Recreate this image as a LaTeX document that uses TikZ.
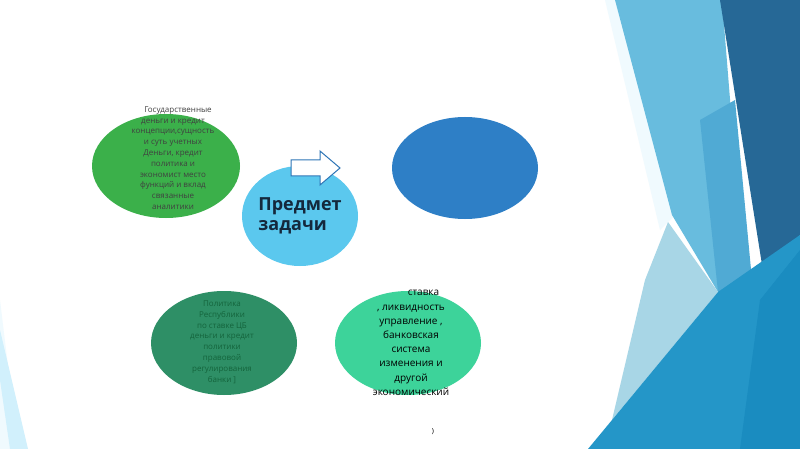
\documentclass[tikz,border=0pt]{standalone}
\usepackage{fontspec}
\setmainfont{Open Sans}
\begin{document}
\begin{tikzpicture}[x=1pt,y=-1pt,
  txt/.style={align=center,font=\fontsize{8}{10.8}\selectfont}]
\useasboundingbox (0,0) rectangle (800,449);
\fill[white] (0,0) rectangle (800,449);
% background shapes
\fill[cyan!6] (0,300) -- (18,449) -- (0,449) -- cycle;
\fill[cyan!18] (0,330) -- (28,449) -- (10,449) -- (0,380) -- cycle;
\fill[cyan!6] (605,0) -- (620,0) -- (675,215) -- (660,230) -- cycle;
\fill[color={rgb,255:red,104;green,188;blue,222}] (615,0) -- (722,0) -- (745,285) -- (718,292) -- (672,215) -- cycle;
\fill[color={rgb,255:red,80;green,170;blue,212}] (700,120) -- (735,100) -- (752,280) -- (718,292) -- cycle;
\fill[color={rgb,255:red,38;green,104;blue,150}] (720,0) -- (800,0) -- (800,235) -- (766,290) -- cycle;
\fill[color={rgb,255:red,168;green,214;blue,230}] (668,222) -- (718,292) -- (612,420) -- (645,280) -- cycle;
\fill[color={rgb,255:red,36;green,150;blue,200}] (588,449) -- (718,292) -- (800,235) -- (800,449) -- cycle;
\fill[color={rgb,255:red,26;green,140;blue,192}] (740,449) -- (760,300) -- (800,250) -- (800,449) -- cycle;
% ellipses
\fill[color={rgb,255:red,59;green,176;blue,74}] (166,166) ellipse [x radius=74,y radius=52];
\fill[color={rgb,255:red,91;green,200;blue,238}] (300,216) ellipse [x radius=58,y radius=50];
\fill[color={rgb,255:red,46;green,127;blue,198}] (465,168) ellipse [x radius=73,y radius=51];
\fill[color={rgb,255:red,46;green,143;blue,102}] (224,343) ellipse [x radius=73,y radius=52];
\fill[color={rgb,255:red,61;green,211;blue,154}] (408,343) ellipse [x radius=73,y radius=52];
% arrow
\draw[color={rgb,255:red,46;green,117;blue,182},fill=white,line width=1pt]
  (291,160) -- (320,160) -- (320,151) -- (340,168) -- (320,185) -- (320,176) -- (291,176) -- cycle;
% texts
\node[txt,text=black!75] (t1) at (173,158) {\hspace*{10pt}Государственные\\деньги и кредит\\концепции,сущность\\и суть учетных\\Деньги, кредит\\политика и\\экономист место\\функций и вклад\\связанные\\аналитики};
\node[txt,text={rgb,255:red,20;green,100;blue,60}] (t2) at (222,342) {Политика\\Республики\\по ставке ЦБ\\деньги и кредит\\политики\\правовой\\регулирования\\банки ]};
\node[font=\bfseries\fontsize{18}{20}\selectfont,align=left,text={rgb,255:red,20;green,40;blue,60}] (c) at (300,216) {Предмет\\задачи};
\node[align=center,font=\fontsize{10}{14.2}\selectfont] (t3) at (411,343) {\hspace*{25pt}ставка\\, ликвидность\\управление ,\\банковская\\система\\изменения и\\другой\\экономический};
\node[font=\fontsize{7}{8}\selectfont] (p) at (433,432) {)};
\end{tikzpicture}
\end{document}
